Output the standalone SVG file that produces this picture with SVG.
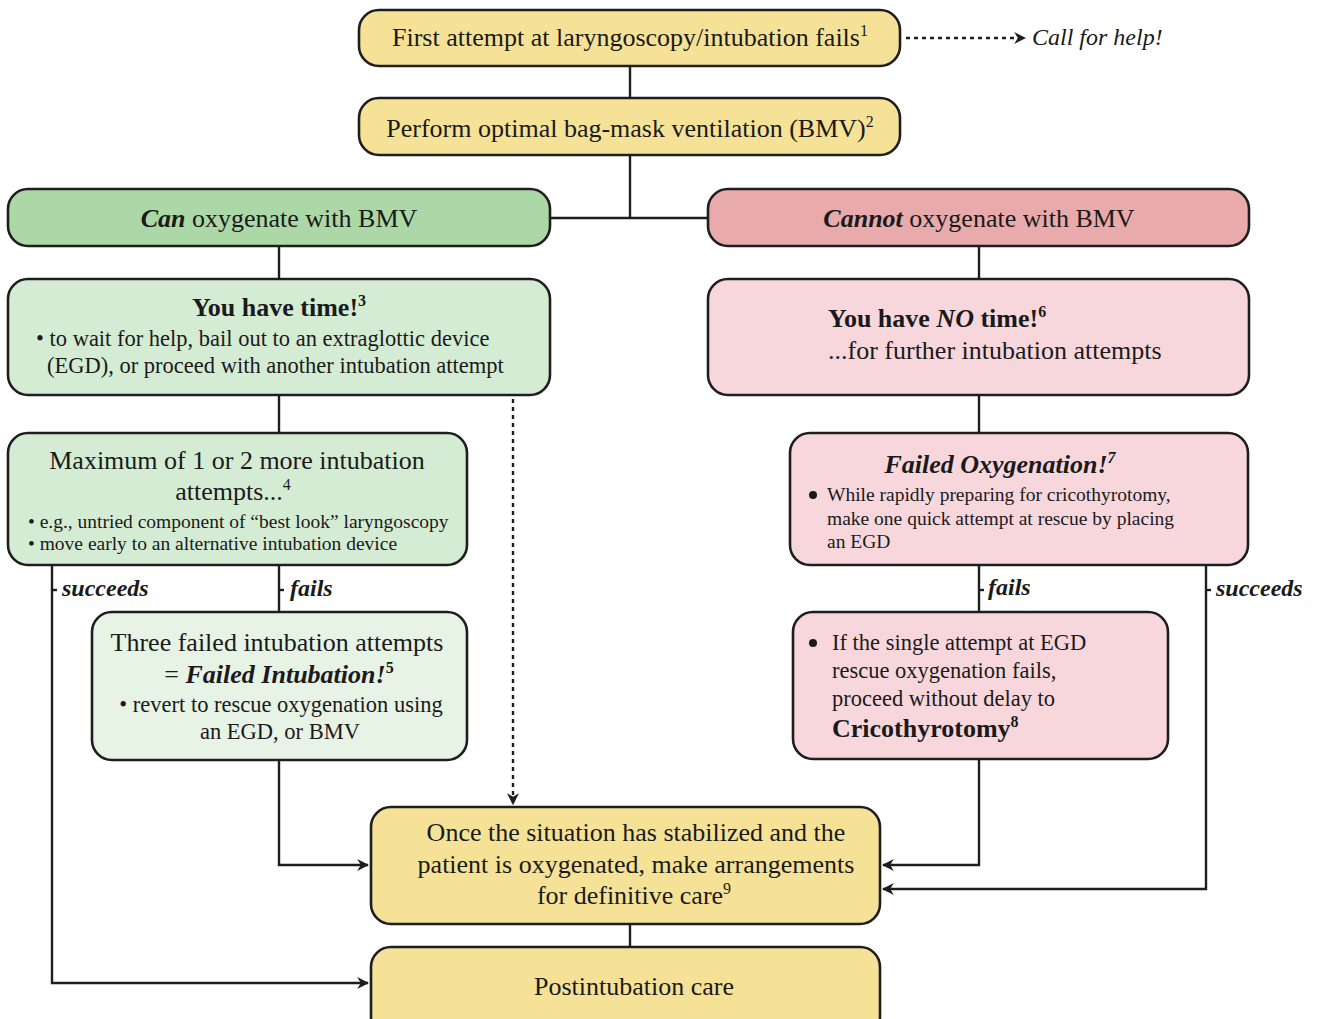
<svg xmlns="http://www.w3.org/2000/svg" width="1321" height="1019" viewBox="0 0 1321 1019">
<style>
.box{stroke:#1e1e1e;stroke-width:2.6}
.y{fill:#f5e297}
.g1{fill:#acd8a8}
.g2{fill:#d5ecd4}
.g3{fill:#e7f3e5}
.p1{fill:#e8aaab}
.p2{fill:#f7d7dc}
text{font-family:"Liberation Serif","DejaVu Serif",serif;fill:#1a1a1a}
.t{font-size:26px}
.s{font-size:22.5px}
.xs{font-size:19.5px}
.lb{font-size:24px}
.c{text-anchor:middle}
.b{font-weight:bold}
.i{font-style:italic}
.ln{fill:none;stroke:#1e1e1e;stroke-width:2.4}
.dot{fill:none;stroke:#1e1e1e;stroke-width:2.4;stroke-dasharray:4 4}
</style>
<defs>
<marker id="ah" viewBox="0 0 10 10" refX="9" refY="5" markerWidth="5" markerHeight="5" orient="auto" markerUnits="strokeWidth">
<path d="M0,0 L10,5 L0,10 L3,5 z" fill="#1e1e1e"/>
</marker>
</defs>
<rect width="1321" height="1019" fill="#ffffff"/>
<g id="connectors">
<line class="ln" x1="630" y1="66" x2="630" y2="98"/>
<polyline class="ln" points="630,155 630,218"/>
<line class="ln" x1="550" y1="218" x2="708" y2="218"/>
<line class="ln" x1="279" y1="246" x2="279" y2="279"/>
<line class="ln" x1="979" y1="246" x2="979" y2="279"/>
<line class="ln" x1="279" y1="395" x2="279" y2="433"/>
<line class="ln" x1="979" y1="395" x2="979" y2="433"/>
<line class="dot" x1="906" y1="38" x2="1025" y2="38" marker-end="url(#ah)"/>
<line class="dot" x1="513" y1="399" x2="513" y2="804" marker-end="url(#ah)"/>
<polyline class="ln" points="52,565 52,983 368,983" marker-end="url(#ah)"/>
<line class="ln" x1="279" y1="565" x2="279" y2="612"/>
<polyline class="ln" points="279,760 279,865 368,865" marker-end="url(#ah)"/>
<line class="ln" x1="979" y1="565" x2="979" y2="612"/>
<polyline class="ln" points="979,759 979,865 883,865" marker-end="url(#ah)"/>
<polyline class="ln" points="1206,565 1206,889 883,889" marker-end="url(#ah)"/>
<line class="ln" x1="630" y1="924" x2="630" y2="947"/>
<line class="ln" x1="52" y1="590" x2="57" y2="590"/>
<line class="ln" x1="279" y1="590" x2="284" y2="590"/>
<line class="ln" x1="979" y1="590" x2="984" y2="590"/>
<line class="ln" x1="1206" y1="590" x2="1211" y2="590"/>
<text class="lb b i" x="62" y="596">succeeds</text>
<text class="lb b i" x="290" y="596">fails</text>
<text class="lb b i" x="988" y="595">fails</text>
<text class="lb b i" x="1216" y="596">succeeds</text>
<text class="lb i" x="1032" y="45">Call for help!</text>
</g>
<g id="n1">
<rect class="box y" x="359" y="10" width="541" height="56" rx="20"/>
<text class="t c" x="630" y="46">First attempt at laryngoscopy/intubation fails<tspan font-size="16" dy="-10">1</tspan></text>
</g>
<g id="n2">
<rect class="box y" x="359" y="98" width="541" height="57" rx="20"/>
<text class="t c" x="630" y="137">Perform optimal bag-mask ventilation (BMV)<tspan font-size="16" dy="-10">2</tspan></text>
</g>
<g id="n3">
<rect class="box g1" x="8" y="189" width="542" height="57" rx="20"/>
<text class="t c" x="279" y="227"><tspan class="b i">Can</tspan> oxygenate with BMV</text>
</g>
<g id="n4">
<rect class="box p1" x="708" y="189" width="541" height="57" rx="20"/>
<text class="t c" x="979" y="227"><tspan class="b i">Cannot</tspan> oxygenate with BMV</text>
</g>
<g id="n5">
<rect class="box g2" x="8" y="279" width="542" height="116" rx="20"/>
<text class="t c b" x="279" y="316">You have time!<tspan font-size="16" dy="-10">3</tspan></text>
<text class="s" x="36" y="346">• to wait for help, bail out to an extraglottic device</text>
<text class="s" x="47" y="373">(EGD), or proceed with another intubation attempt</text>
</g>
<g id="n6">
<rect class="box p2" x="708" y="279" width="541" height="116" rx="20"/>
<text class="t b" x="828" y="327">You have <tspan class="i">NO</tspan> time!<tspan font-size="16" dy="-10">6</tspan></text>
<text class="t" x="828" y="359">...for further intubation attempts</text>
</g>
<g id="n7">
<rect class="box g2" x="8" y="433" width="459" height="132" rx="20"/>
<text class="t c" x="237" y="469">Maximum of 1 or 2 more intubation</text>
<text class="t c" x="233" y="500">attempts...<tspan font-size="16" dy="-10">4</tspan></text>
<text class="xs" x="28" y="528">• e.g., untried component of “best look” laryngoscopy</text>
<text class="xs" x="28" y="550">• move early to an alternative intubation device</text>
</g>
<g id="n8">
<rect class="box p2" x="790" y="433" width="458" height="132" rx="20"/>
<text class="t c b i" x="1000" y="473">Failed Oxygenation!<tspan font-size="16" dy="-10">7</tspan></text>
<circle cx="813" cy="495" r="4" fill="#1a1a1a"/>
<text class="xs" x="827" y="501">While rapidly preparing for cricothyrotomy,</text>
<text class="xs" x="827" y="525">make one quick attempt at rescue by placing</text>
<text class="xs" x="827" y="548">an EGD</text>
</g>
<g id="n9">
<rect class="box g3" x="92" y="612" width="375" height="148" rx="20"/>
<text class="t c" x="277" y="651">Three failed intubation attempts</text>
<text class="t c" x="279" y="683">= <tspan class="b i">Failed Intubation!</tspan><tspan class="b" font-size="16" dy="-10">5</tspan></text>
<text class="s c" x="281" y="712">• revert to rescue oxygenation using</text>
<text class="s c" x="280" y="739">an EGD, or BMV</text>
</g>
<g id="n10">
<rect class="box p2" x="793" y="612" width="375" height="147" rx="20"/>
<circle cx="813" cy="643" r="4" fill="#1a1a1a"/>
<text class="s" x="832" y="650">If the single attempt at EGD</text>
<text class="s" x="832" y="678">rescue oxygenation fails,</text>
<text class="s" x="832" y="706">proceed without delay to</text>
<text class="t b" x="832" y="737">Cricothyrotomy<tspan font-size="16" dy="-10">8</tspan></text>
</g>
<g id="n11">
<rect class="box y" x="371" y="807" width="509" height="117" rx="20"/>
<text class="t c" x="636" y="841">Once the situation has stabilized and the</text>
<text class="t c" x="636" y="873">patient is oxygenated, make arrangements</text>
<text class="t c" x="634" y="904">for definitive care<tspan font-size="16" dy="-10">9</tspan></text>
</g>
<g id="n12">
<rect class="box y" x="371" y="947" width="509" height="90" rx="20"/>
<text class="t c" x="634" y="995">Postintubation care</text>
</g>
</svg>
